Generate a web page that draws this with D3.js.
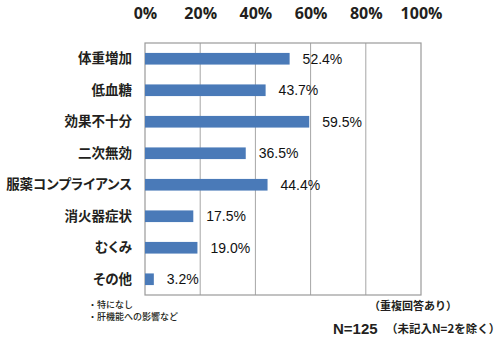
<!DOCTYPE html>
<html>
<head>
<meta charset="utf-8">
<script src="https://cdn.jsdelivr.net/npm/d3@7"></script>
<style>
  html, body { margin: 0; padding: 0; background: #fff; }
  svg { display: block; }
  .jp { font-feature-settings: "palt"; }
</style>
</head>
<body>
<svg id="chart" width="500" height="343"></svg>
<script>
// Reasons (multiple answers allowed), share of respondents in %
const categories = ["体重増加", "低血糖", "効果不十分", "二次無効", "服薬コンプライアンス", "消火器症状", "むくみ", "その他"];
const values = [52.4, 43.7, 59.5, 36.5, 44.4, 17.5, 19.0, 3.2];
const tickValues = [0, 20, 40, 60, 80, 100];
const notes = ["・特になし", "・肝機能への影響など"];

const svg = d3.select("#chart");
const cjk = "'Noto Sans CJK JP', 'Noto Sans', sans-serif";
const latin = "'Liberation Sans', Arial, sans-serif";

const plot = { left: 145, right: 421, top: 43, bottom: 295 };

const x = d3.scaleLinear().domain([0, 100]).range([plot.left, plot.right]);
const y = d3.scaleBand().domain(categories).range([plot.top, plot.bottom]).paddingInner(0.63).paddingOuter(0.315);

// vertical gridlines
svg.append("g")
  .selectAll("line")
  .data(tickValues.slice(1, -1))
  .join("line")
  .attr("x1", d => x(d)).attr("x2", d => x(d))
  .attr("y1", plot.top).attr("y2", plot.bottom)
  .attr("stroke", "#a6a6a6").attr("stroke-width", 1);

// plot frame
svg.append("rect")
  .attr("x", plot.left).attr("y", plot.top)
  .attr("width", plot.right - plot.left).attr("height", plot.bottom - plot.top)
  .attr("fill", "none").attr("stroke", "#9a9a9a").attr("stroke-width", 1.2);

// top axis labels
const axis = d3.axisTop(x).tickValues(tickValues).tickFormat(d => d + "%").tickSize(0).tickPadding(0);
const gAxis = svg.append("g").attr("transform", "translate(0,19)").call(axis);
gAxis.select(".domain").remove();
gAxis.selectAll("text")
  .attr("font-family", "'Open Sans', 'Noto Sans', sans-serif")
  .attr("font-weight", "bold")
  .attr("font-size", 16)
  .attr("fill", "#231f20");

// category labels (proportional kana so the long label fits)
const gY = svg.append("g").attr("transform", `translate(${plot.left - 13},0)`)
  .call(d3.axisLeft(y).tickSize(0).tickPadding(0));
gY.select(".domain").remove();
gY.selectAll("text")
  .attr("class", "jp")
  .attr("font-family", cjk)
  .attr("font-weight", "bold")
  .attr("font-size", 13.5)
  .attr("fill", "#231f20");

// bars
svg.append("g")
  .selectAll("rect")
  .data(values)
  .join("rect")
  .attr("x", x(0))
  .attr("y", (d, i) => y(categories[i]))
  .attr("width", d => x(d) - x(0))
  .attr("height", y.bandwidth())
  .attr("fill", "#4a7ab8");

// value labels
svg.append("g")
  .selectAll("text")
  .data(values)
  .join("text")
  .attr("x", d => x(d) + 13)
  .attr("y", (d, i) => y(categories[i]) + y.bandwidth() / 2)
  .attr("dy", "0.36em")
  .attr("font-family", latin)
  .attr("font-size", 14)
  .attr("fill", "#111")
  .text(d => d.toFixed(1) + "%");

// footnotes
svg.append("g")
  .selectAll("text")
  .data(notes)
  .join("text")
  .attr("x", 88)
  .attr("y", (d, i) => 305 + i * 11.5)
  .attr("dy", "0.35em")
  .attr("font-family", cjk)
  .attr("font-weight", 500)
  .attr("font-size", 9)
  .attr("fill", "#231f20")
  .text(d => d);

svg.append("text")
  .attr("x", 413).attr("y", 306).attr("dy", "0.35em")
  .attr("text-anchor", "middle")
  .attr("font-family", cjk).attr("font-weight", "bold").attr("font-size", 11)
  .attr("fill", "#231f20")
  .text("（重複回答あり）");

svg.append("text")
  .attr("x", 333).attr("y", 329).attr("dy", "0.35em")
  .attr("font-family", latin).attr("font-weight", "bold").attr("font-size", 15)
  .attr("fill", "#231f20")
  .text("N=125");

svg.append("text")
  .attr("x", 386).attr("y", 329).attr("dy", "0.35em")
  .attr("font-family", cjk).attr("font-weight", "bold").attr("font-size", 11.5)
  .attr("fill", "#231f20")
  .text("（未記入N=2を除く）");
</script>
</body>
</html>
